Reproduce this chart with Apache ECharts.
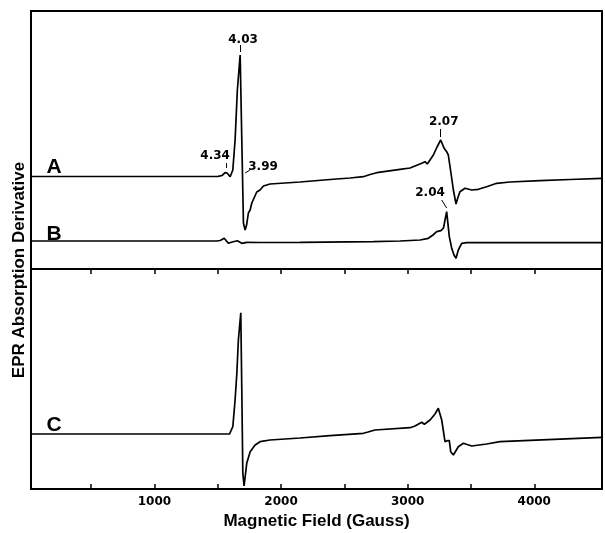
<!DOCTYPE html>
<html>
<head>
<meta charset="utf-8">
<script src="https://cdn.jsdelivr.net/npm/echarts@6/dist/echarts.min.js"></script>
<style>
html,body{margin:0;padding:0;background:#fff;}
#chart{width:605px;height:533px;}
</style>
</head>
<body>
<div id="chart"></div>
<script>
// Magnetic field (Gauss) sample positions and trace amplitudes (panel units)
const fieldA = [25,571,1361,1503,1534,1558,1574,1598,1619,1637,1655,1677,1690,1703,1716,1728,1742,1756,1769,1808,1834,1861,1913,2150,2387,2545,2650,2703,2756,2940,3019,3111,3137,3155,3203,3232,3261,3287,3308,3321,3342,3361,3382,3398,3413,3453,3506,3558,3624,3703,3808,4045,4282,4535];
const sigA   = [92.5,92.5,92.5,92.7,93.5,96.3,96,92.3,99,129,179,214,129,46,39,44,56,59,66,77,79,83,85,87,89.5,91,92.3,94.5,96.3,99.7,101,105.7,107.3,105,114,122,129,121,117.3,114,96,79,65,72,77.3,80.7,79,79.7,82.3,85.7,87,88.3,89.5,90.7];

const fieldB = [25,571,1361,1493,1519,1551,1566,1584,1614,1655,1690,1730,1834,2150,2729,2940,3098,3163,3200,3229,3263,3283,3308,3329,3348,3366,3382,3400,3427,3466,3729,4535];
const sigB   = [28,28,28,28,28.5,30.7,29.5,25.7,27,28.3,25.7,26.7,26.5,26.7,27.3,28,29,30.7,34,37.3,38.3,41,57.3,32.3,20.7,14,10.7,19,25.7,26.3,26.3,26.3];

const fieldC = [25,571,1361,1593,1606,1619,1637,1651,1663,1682,1690,1698,1708,1729,1756,1795,1834,1913,2150,2387,2650,2687,2742,3019,3058,3111,3132,3177,3216,3242,3269,3295,3313,3329,3340,3361,3400,3440,3506,3624,3729,4535];
const sigC   = [55,55,55,55,57,62.3,89,116,149,176.3,99,16,3,25.7,37.3,44,47.3,49,51,53.3,55.7,57,59,61.3,63,66.7,64.7,69,75,80.7,69,47.3,48.3,48.3,37.3,34,42.3,45.7,43,45,47.3,51.7];

// axis ticks
const tickValues  = [500,1000,1500,2000,2500,3000,3500,4000];
const labelValues = [1000,2000,3000,4000];

// annotations: [field, amplitude, text]
const peakLabels  = [[1700,229,'4.03'],[1479,113,'4.34'],[1858,102,'3.99'],[3285,147.3,'2.07'],[3177,76,'2.04']];
const peakLeaders = [[[1677,224],[1677,217]],[[1566,106],[1566,101]],[[1716,96],[1755,99]],[[3260,140],[3260,132]],[[3269,69],[3308,61]]];
const traceNamesTop = [[208,101.5,'A'],[208,35,'B']];
const traceNamesBottom = [[208,64,'C']];

const zip = (xs, ys) => xs.map((x, i) => [x, ys[i]]);
const FONT = 'Liberation Sans';

const chart = echarts.init(document.getElementById('chart'), null, {renderer: 'canvas'});

const lineStyle = {color: '#000', width: 1.7};
const hiddenAxis = {axisLine:{show:false}, axisTick:{show:false}, axisLabel:{show:false}, splitLine:{show:false}};

const labelScatter = (data, gi, size) => ({
  type: 'scatter', xAxisIndex: gi, yAxisIndex: gi,
  data: data, symbolSize: 1,
  itemStyle: {color: 'rgba(0,0,0,0)'},
  silent: true,
  label: {show: true, position: 'inside', color: '#000', textBorderWidth: 0, opacity: 1,
    fontFamily: size > 15 ? FONT : 'DejaVu Sans', fontWeight: 'bold', fontSize: size,
    formatter: p => p.data[2]}
});

chart.setOption({
  animation: false,
  backgroundColor: '#fff',
  grid: [
    {left: 31, right: 3, top: 11, height: 258, show: true, borderColor: '#000', borderWidth: 2, backgroundColor: 'transparent'},
    {left: 31, right: 3, top: 269, height: 220, show: true, borderColor: '#000', borderWidth: 2, backgroundColor: 'transparent'}
  ],
  xAxis: [
    Object.assign({gridIndex: 0, type: 'value', min: 25, max: 4535}, hiddenAxis),
    {gridIndex: 1, type: 'value', min: 25, max: 4535, position: 'bottom',
      axisLine: {show: false}, splitLine: {show: false},
      axisTick: {show: true, inside: true, length: 5, customValues: tickValues, lineStyle: {color: '#000', width: 1.5}},
      axisLabel: {show: true, customValues: labelValues, margin: 7, color: '#000', fontFamily: 'DejaVu Sans', fontWeight: 'bold', fontSize: 12,
        formatter: v => String(v)},
      name: 'Magnetic Field (Gauss)', nameLocation: 'middle', nameGap: 24,
      nameTextStyle: {color: '#000', fontFamily: FONT, fontWeight: 'bold', fontSize: 17}
    },
    {gridIndex: 1, type: 'value', min: 25, max: 4535, position: 'top',
      axisLine: {show: false}, splitLine: {show: false}, axisLabel: {show: false},
      axisTick: {show: true, inside: true, length: 5, customValues: tickValues, lineStyle: {color: '#000', width: 1.5}}
    }
  ],
  yAxis: [
    Object.assign({gridIndex: 0, type: 'value', min: 0, max: 258}, hiddenAxis),
    Object.assign({gridIndex: 1, type: 'value', min: 0, max: 220}, hiddenAxis)
  ],
  graphic: [{
    type: 'text', x: 19, y: 270, rotation: Math.PI / 2,
    style: {text: 'EPR Absorption Derivative', fill: '#000', font: 'bold 17px "Liberation Sans"', textAlign: 'center', textVerticalAlign: 'middle'}
  }],
  series: [
    {type: 'line', xAxisIndex: 0, yAxisIndex: 0, data: zip(fieldA, sigA), showSymbol: false, lineStyle: lineStyle,
      markLine: {silent: true, symbol: ['none', 'none'], label: {show: false}, lineStyle: {color: '#000', width: 1, type: 'solid'},
        data: peakLeaders.map(s => [{coord: s[0]}, {coord: s[1]}])}},
    {type: 'line', xAxisIndex: 0, yAxisIndex: 0, data: zip(fieldB, sigB), showSymbol: false, lineStyle: lineStyle},
    {type: 'line', xAxisIndex: 1, yAxisIndex: 1, data: zip(fieldC, sigC), showSymbol: false, lineStyle: lineStyle},
    labelScatter(peakLabels, 0, 12),
    labelScatter(traceNamesTop, 0, 21),
    labelScatter(traceNamesBottom, 1, 21)
  ]
});
</script>
</body>
</html>
